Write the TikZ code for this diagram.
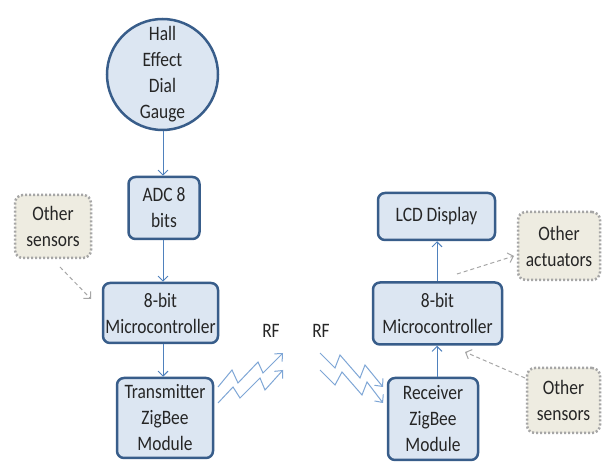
\documentclass[tikz,border=0pt]{standalone}
\usepackage{fontspec}
\setmainfont{Carlito}[FakeStretch=0.85]
\usetikzlibrary{arrows.meta}
\definecolor{boxfill}{HTML}{DCE6F2}
\definecolor{boxline}{HTML}{385D8A}
\definecolor{linkblue}{HTML}{4F81BD}
\definecolor{zigblue}{HTML}{7EA6D6}
\definecolor{notefill}{HTML}{EEECE1}
\definecolor{notegray}{HTML}{A6A6A6}
\definecolor{txt}{HTML}{262626}
\tikzset{
  blk/.style={draw=boxline, line width=2.5pt, fill=boxfill, rounded corners=7pt,
    align=center, inner sep=0pt, text=txt, font=\fontsize{20.5}{26}\selectfont},
  gaugebox/.style={blk, circle},
  notebox/.style={draw=notegray, line width=2.5pt, dash pattern=on 2pt off 2pt,
    fill=notefill, rounded corners=8pt, align=center, inner sep=0pt, text=txt,
    font=\fontsize{20.5}{26}\selectfont},
  conn/.style={draw=linkblue, line width=0.9pt, -{Straight Barb[length=5pt,width=10pt]}},
  dasharr/.style={draw=notegray, line width=1pt, dash pattern=on 4pt off 3pt,
    -{Straight Barb[length=5pt,width=10pt]}},
  zig/.style={draw=zigblue, line width=1pt, line join=miter,
    -{Straight Barb[length=6pt,width=11pt]}},
  lbl/.style={text=txt, font=\fontsize{20.5}{26}\selectfont, inner sep=0pt}
}
\begin{document}
\begin{tikzpicture}[x=1pt,y=-1pt]
\useasboundingbox (0,0) rectangle (603,462);
\fill[white] (0,0) rectangle (603,462);
% left column
\node[gaugebox, minimum size=111pt] (gauge) at (162.5,74.5) {Hall\\Effect\\Dial\\Gauge};
\node[blk, minimum width=71pt, minimum height=62pt] (adc) at (164,208) {ADC 8\\bits};
\node[blk, minimum width=115pt, minimum height=60pt] (micL) at (160.5,313) {8-bit\\Microcontroller};
\node[blk, minimum width=96pt, minimum height=80pt] (tx) at (165,418) {Transmitter\\ZigBee\\Module};
\node[notebox, minimum width=76pt, minimum height=63pt] (sensL) at (53,226.5) {Other\\sensors};
% right column
\node[blk, minimum width=117pt, minimum height=47pt] (lcd) at (436.5,216.5) {LCD Display};
\node[blk, minimum width=129pt, minimum height=62pt] (micR) at (437.5,313.5) {8-bit\\Microcontroller};
\node[blk, minimum width=90pt, minimum height=82pt] (rx) at (433,419) {Receiver\\ZigBee\\Module};
\node[notebox, minimum width=82pt, minimum height=68pt] (act) at (559,246) {Other\\actuators};
\node[notebox, minimum width=73pt, minimum height=65pt] (sensR) at (563.5,400.5) {Other\\sensors};
% RF labels
\node[lbl] (rf1) at (271,331) {RF};
\node[lbl] (rf2) at (321,331) {RF};
% connectors
\coordinate (ax) at (163,0);
\draw[conn] (gauge.south) -- (gauge.south -| ax) -- (ax |- adc.north);
\draw[conn] (ax |- adc.south) -- (ax |- micL.north);
\draw[conn] (ax |- micL.south) -- (ax |- tx.north);
\coordinate (bx) at (437,0);
\draw[conn] (bx |- rx.north) -- (bx |- micR.south);
\draw[conn] (bx |- micR.north) -- (bx |- lcd.south);
% dashed arrows
\coordinate (s1) at (60,267);
\coordinate (e1) at (91,299);
\draw[dasharr] (s1) -- (e1);
\coordinate (s2) at (457,274);
\coordinate (e2) at (514,256);
\draw[dasharr] (s2) -- (e2);
\coordinate (s3) at (525,378);
\coordinate (e3) at (465,352);
\draw[dasharr] (s3) -- (e3);
% zigzags (RF waves)
\draw[zig] (218,387) -- (232,370) -- (238,383) -- (258,362) -- (263,373) -- (283,353);
\draw[zig] (218,403) -- (233,387) -- (240,398) -- (260,378) -- (265,390) -- (283,370);
\draw[zig] (320,353) -- (335,368) -- (340,355) -- (360,378) -- (365,365) -- (383,387);
\draw[zig] (320,370) -- (335,385) -- (342,372) -- (362,395) -- (367,382) -- (383,403);
\end{tikzpicture}
\end{document}
